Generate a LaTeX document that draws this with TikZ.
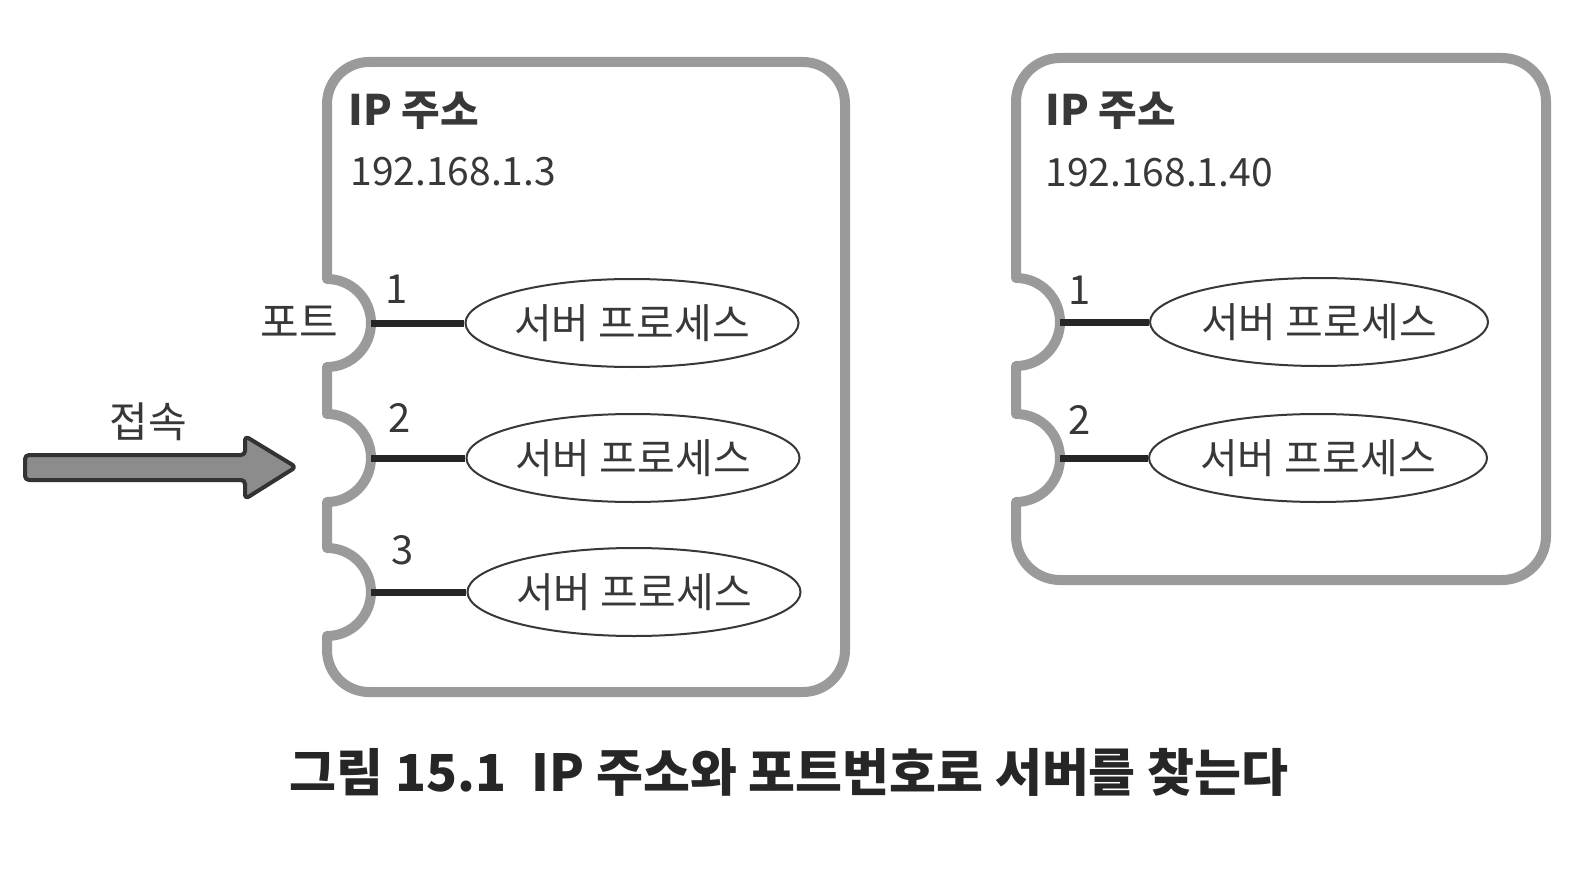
\documentclass[tikz,border=0pt]{standalone}
\usepackage{fontspec}
\setmainfont{Noto Sans CJK KR}
\usetikzlibrary{shapes.geometric}
\definecolor{boxgray}{HTML}{9A9A9A}
\definecolor{textgray}{HTML}{383838}
\definecolor{arrowfill}{HTML}{8C8C8C}
\begin{document}
\begin{tikzpicture}[x=0.5pt,y=-0.5pt,
  boxline/.style={draw=boxgray, line width=5pt, line join=round},
  proc/.style={ellipse, draw=textgray, line width=1pt, minimum width=165pt, minimum height=44pt, inner sep=0pt, text=textgray, font=\fontsize{20.5}{22}\selectfont},
  link/.style={draw=black!85, line width=3.5pt},
  title/.style={anchor=west, inner sep=0pt, text=textgray, font=\bfseries\fontsize{21}{23}\selectfont},
  addr/.style={anchor=west, inner sep=0pt, text=textgray, font=\fontsize{19.5}{22}\selectfont},
  num/.style={inner sep=0pt, text=textgray, font=\fontsize{20}{22}\selectfont},
  lab/.style={inner sep=0pt, text=textgray, font=\fontsize{21}{23}\selectfont},
  arrowshape/.style={fill=arrowfill, draw=black!80, line width=2pt, rounded corners=2pt, line join=round},
  caption/.style={inner sep=0pt, text=black!85, font=\bfseries\fontsize{25.5}{27}\selectfont}]
\useasboundingbox (0,0) rectangle (1572,882);
\fill[white] (0,0) rectangle (1572,882);

% left host box
\draw[boxline] (369,62) -- (803,62) arc[start angle=-90,end angle=0,radius=42]
  -- (845,650) arc[start angle=0,end angle=90,radius=42]
  -- (369,692) arc[start angle=90,end angle=180,radius=42]
  -- (327,636) arc[start angle=90,end angle=-90,radius=44]
  -- (327,502) arc[start angle=90,end angle=-90,radius=44]
  -- (327,367) arc[start angle=90,end angle=-90,radius=44]
  -- (327,104) arc[start angle=180,end angle=270,radius=42] -- cycle;

% right host box
\draw[boxline] (1060,58) -- (1502,58) arc[start angle=-90,end angle=0,radius=44]
  -- (1546,536) arc[start angle=0,end angle=90,radius=44]
  -- (1060,580) arc[start angle=90,end angle=180,radius=44]
  -- (1016,502) arc[start angle=90,end angle=-90,radius=44]
  -- (1016,366) arc[start angle=90,end angle=-90,radius=44]
  -- (1016,102) arc[start angle=180,end angle=270,radius=44] -- cycle;

% titles
\node[title] (t1) at (348,111) {IP 주소};
\node[addr] (a1) at (350,172) {192.168.1.3};
\node[title] (t2) at (1045,111) {IP 주소};
\node[addr] (a2) at (1045,173) {192.168.1.40};

% port tips
\coordinate (p1) at (371,323);
\coordinate (p2) at (371,458);
\coordinate (p3) at (371,592);
\coordinate (q1) at (1060,322);
\coordinate (q2) at (1060,458);

% processes
\node[proc] (e1) at (632,323) {서버 프로세스};
\node[proc] (e2) at (633,458) {서버 프로세스};
\node[proc] (e3) at (634,592) {서버 프로세스};
\node[proc, minimum width=169pt] (f1) at (1319,322) {서버 프로세스};
\node[proc, minimum width=169pt] (f2) at (1318,458) {서버 프로세스};

\draw[link] (p1) -- (e1.west);
\draw[link] (p2) -- (e2.west);
\draw[link] (p3) -- (e3.west);
\draw[link] (q1) -- (f1.west);
\draw[link] (q2) -- (f2.west);

% port numbers
\node[num] (n1) at (397,289) {1};
\node[num] (n2) at (400,418) {2};
\node[num] (n3) at (403,550) {3};
\node[num] (m1) at (1080,290) {1};
\node[num] (m2) at (1080,420) {2};

\node[lab] (port) at (299,322) {포트};
\node[lab] (conn) at (148,422) {접속};

% connection arrow
\draw[arrowshape] (25,455) -- (245,455) -- (245,436) -- (296,467) -- (245,499) -- (245,480) -- (25,480) -- cycle;

% caption
\node[caption] (cap) at (789,772) {그림 15.1\enspace IP 주소와 포트번호로 서버를 찾는다};
\end{tikzpicture}
\end{document}
